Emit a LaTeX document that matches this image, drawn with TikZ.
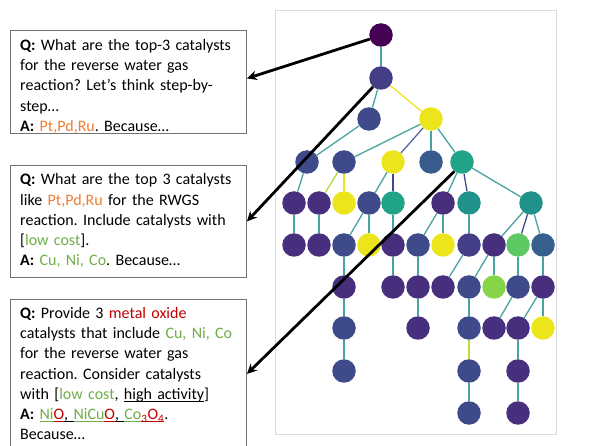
\documentclass[tikz,border=0pt]{standalone}
\usepackage{fontspec}
\setmainfont{Carlito}
\usepackage{xcolor}
\usetikzlibrary{arrows.meta}
\frenchspacing

\definecolor{orng}{HTML}{ED7D31}
\definecolor{grn}{HTML}{70AD47}
\definecolor{rd}{HTML}{C00000}
\definecolor{tealedge}{HTML}{48A39E}
\definecolor{vdark}{HTML}{440154}
\definecolor{vpurp}{HTML}{472F7D}
\definecolor{vind}{HTML}{433E85}
\definecolor{vblue}{HTML}{3E4A89}
\definecolor{vsteel}{HTML}{355F8D}
\definecolor{vteal}{HTML}{21918C}
\definecolor{vsea}{HTML}{20A386}
\definecolor{vgreen}{HTML}{5EC962}
\definecolor{vlime}{HTML}{86D549}
\definecolor{vyell}{HTML}{EDE51B}

\newcommand\undl[1]{\setbox0\hbox{#1}\rlap{\rule[-2.6pt]{\wd0}{0.8pt}}\box0}

\begin{document}
\begin{tikzpicture}[x=1pt,y=-1pt,
		dot/.style={circle,minimum size=23.5pt,inner sep=0pt},
		edge/.style={draw=tealedge,line width=1.3pt},
		qbox/.style={draw=black!55,line width=0.9pt,inner sep=0pt,anchor=north west,minimum width=236pt},
		qtext/.style={anchor=base west,inner sep=0pt,text width=226pt,align=left,font=\fontsize{16}{20.2}\selectfont},
		pointer/.style={line width=2.8pt,-{Stealth[length=10pt,width=9.5pt]}}]
		\useasboundingbox (0,0) rectangle (600,446);
		
		% frame of the tree
		\draw[black!15,line width=0.8pt] (275,10) rectangle (556,434);
		
		% tree nodes
		\node[dot,fill=vdark] (r) at (381,35) {};
		\node[dot,fill=vind] (a) at (381,78) {};
		\node[dot,fill=vblue] (ba) at (369,119) {};
		\node[dot,fill=vyell] (bb) at (431,119) {};
		\node[dot,fill=vblue] (ca) at (307,162) {};
		\node[dot,fill=vblue] (cb) at (344,162) {};
		\node[dot,fill=vyell] (cc) at (393,162) {};
		\node[dot,fill=vsteel!80!vblue] (cd) at (431,162) {};
		\node[dot,fill=vsea] (ce) at (462,162) {};
		\node[dot,fill=vpurp] (da) at (294,203) {};
		\node[dot,fill=vpurp] (db) at (319,203) {};
		\node[dot,fill=vyell] (dc) at (344,203) {};
		\node[dot,fill=vblue] (dd) at (369,203) {};
		\node[dot,fill=vsea] (de) at (393,203) {};
		\node[dot,fill=vpurp] (df) at (443,203) {};
		\node[dot,fill=vteal] (dg) at (469,203) {};
		\node[dot,fill=vteal] (dh) at (531,203) {};
		\node[dot,fill=vpurp] (ea) at (294,245) {};
		\node[dot,fill=vpurp] (eb) at (319,245) {};
		\node[dot,fill=vblue] (ec) at (344,245) {};
		\node[dot,fill=vyell] (ed) at (369,245) {};
		\node[dot,fill=vpurp] (ee) at (393,245) {};
		\node[dot,fill=vblue] (ef) at (418,245) {};
		\node[dot,fill=vyell] (eg) at (443,245) {};
		\node[dot,fill=vind] (eh) at (469,245) {};
		\node[dot,fill=vpurp] (ei) at (494,245) {};
		\node[dot,fill=vgreen] (ej) at (518,245) {};
		\node[dot,fill=vsteel] (ek) at (543,245) {};
		\node[dot,fill=vpurp] (fa) at (344,287) {};
		\node[dot,fill=vpurp] (fb) at (393,287) {};
		\node[dot,fill=vpurp] (fc) at (418,287) {};
		\node[dot,fill=vpurp] (fd) at (443,287) {};
		\node[dot,fill=vblue] (fe) at (469,287) {};
		\node[dot,fill=vlime] (ff) at (494,287) {};
		\node[dot,fill=vblue] (fg) at (518,287) {};
		\node[dot,fill=vpurp] (fh) at (543,287) {};
		\node[dot,fill=vblue] (ga) at (344,328) {};
		\node[dot,fill=vpurp] (gb) at (418,328) {};
		\node[dot,fill=vblue] (gc) at (469,328) {};
		\node[dot,fill=vpurp] (gd) at (494,328) {};
		\node[dot,fill=vpurp] (ge) at (518,328) {};
		\node[dot,fill=vyell] (gf) at (543,328) {};
		\node[dot,fill=vblue] (ha) at (344,371) {};
		\node[dot,fill=vblue] (hb) at (469,371) {};
		\node[dot,fill=vpurp] (hc) at (518,371) {};
		\node[dot,fill=vblue] (ia) at (469,413) {};
		\node[dot,fill=vpurp] (ib) at (518,413) {};
		
		% tree edges
		\draw[edge] (r) -- (a);
		\draw[edge,draw=vyell] (a) -- (bb);
		\draw[edge] (a) -- (ba);
		\draw[edge] (ba) -- (ca);
		\draw[edge] (bb) -- (cb);
		\draw[edge,draw=vblue!85] (bb) -- (cc);
		\draw[edge] (bb) -- (cd);
		\draw[edge] (bb) -- (ce);
		\draw[edge] (ca) -- (da);
		\draw[edge,draw=vlime!60!vyell] (cb) -- (db);
		\draw[edge,draw=vyell] (cb) -- (dc);
		\draw[edge] (cc) -- (dd);
		\draw[edge,draw=vblue] (cc) -- (de);
		\draw[edge] (ce) -- (df);
		\draw[edge,draw=vblue] (ce) -- (dg);
		\draw[edge] (ce) -- (dh);
		\draw[edge] (da) -- (ea);
		\draw[edge] (db) -- (eb);
		\draw[edge] (dd) -- (ec);
		\draw[edge] (dd) -- (ed);
		\draw[edge] (de) -- (ee);
		\draw[edge] (df) -- (ef);
		\draw[edge] (df) -- (eg);
		\draw[edge] (dg) -- (eh);
		\draw[edge] (dh) -- (ei);
		\draw[edge,draw=vblue] (dh) -- (ej);
		\draw[edge] (dh) -- (ek);
		\draw[edge] (ec) -- (fa);
		\draw[edge] (ee) -- (fb);
		\draw[edge] (ef) -- (fc);
		\draw[edge] (eh) -- (fd);
		\draw[edge] (ei) -- (fe);
		\draw[edge] (ei) -- (ff);
		\draw[edge] (ej) -- (fg);
		\draw[edge] (ek) -- (fh);
		\draw[edge] (fa) -- (ga);
		\draw[edge] (fc) -- (gb);
		\draw[edge] (fe) -- (gc);
		\draw[edge] (fg) -- (gd);
		\draw[edge] (fh) -- (ge);
		\draw[edge] (fh) -- (gf);
		\draw[edge] (ga) -- (ha);
		\draw[edge,draw=vlime!50!vyell] (gc) -- (hb);
		\draw[edge] (ge) -- (hc);
		\draw[edge] (hb) -- (ia);
		\draw[edge] (hc) -- (ib);
		
		% prompt boxes
		\node[qbox,minimum height=103pt] (box1) at (10,30) {};
		\node[qbox,minimum height=112pt] (box2) at (10,165) {};
		\node[qbox,minimum height=149pt] (box3) at (10,299) {};
		
		\node[qtext] (q1) at (20,50.5) {\textbf{Q:} What are the top-3 catalysts\\
			for the reverse water gas\\
			reaction? Let’s think step-by-\\
			step…\\
			\textbf{A:} {\color{orng}Pt,Pd,Ru}. Because…};
		\node[qtext] (q2) at (20,185) {\textbf{Q:} What are the top 3 catalysts\\
			like {\color{orng}Pt,Pd,Ru} for the RWGS\\
			reaction. Include catalysts with\\
			{[}{\color{grn}low cost}].\\
			\textbf{A:} {\color{grn}Cu, Ni, Co}. Because…};
		\node[qtext] (q3) at (20,318.5) {\textbf{Q:} Provide 3 {\color{rd}metal oxide}\\
			catalysts that include {\color{grn}Cu, Ni, Co}\\
			for the reverse water gas\\
			reaction. Consider catalysts\\
			with [{\color{grn}low cost}, \undl{high activity}]\\
			\textbf{A:} {\color{grn}\undl{Ni}}{\color{rd}\undl{O}}\undl{, }{\color{grn}\undl{NiCu}}{\color{rd}\undl{O}}\undl{, }{\color{grn}\undl{Co}}{\color{rd}\undl{\textsubscript{3}O\textsubscript{4}}}.\\
			Because…};
		
		% pointers from the tree to the prompts
		\draw[pointer] (r.200) -- ([yshift=3.5pt]box1.east);
		\draw[pointer] (a.228) -- (box2.east);
		\draw[pointer] (ce.231) -- (box3.east);
	\end{tikzpicture}
\end{document}
